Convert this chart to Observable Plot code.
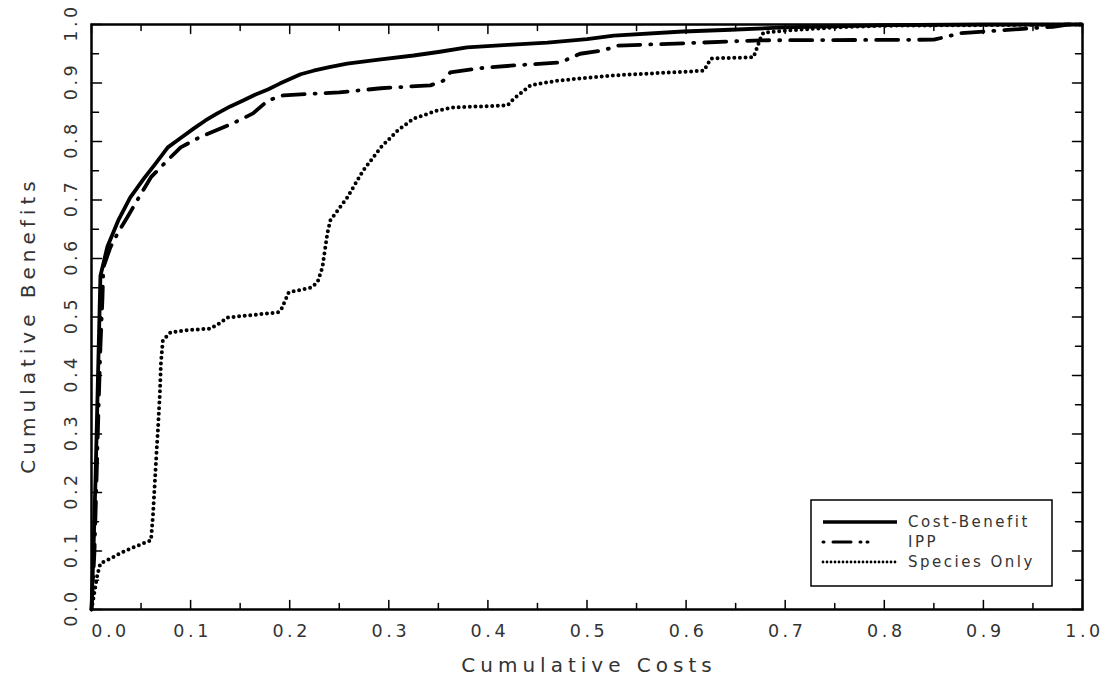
<!DOCTYPE html>
<html><head><meta charset="utf-8">
<script src="https://cdn.jsdelivr.net/npm/d3@7"></script>
<script src="https://cdn.jsdelivr.net/npm/@observablehq/plot@0.6"></script>
<style>
body{margin:0;background:#fff;}
#wrap{position:relative;width:1111px;height:686px;background:#fff;}
#legend{position:absolute;left:0;top:0;}
</style></head><body><div id="wrap"></div>
<script>
// ---- data ----
const costBenefitX = [0,0.002,0.004,0.006,0.008,0.009,0.016,0.027,0.039,0.053,0.065,0.077,0.09,0.103,0.115,0.127,0.14,0.153,0.165,0.178,0.19,0.211,0.224,0.24,0.258,0.29,0.325,0.35,0.379,0.42,0.46,0.5,0.527,0.597,0.645,0.7,0.749,0.8,0.9,1.0];
const costBenefitY = [0,0.10,0.22,0.36,0.50,0.57,0.62,0.665,0.704,0.737,0.763,0.79,0.806,0.822,0.836,0.848,0.86,0.870,0.880,0.889,0.899,0.915,0.921,0.927,0.933,0.94,0.947,0.953,0.961,0.965,0.969,0.975,0.981,0.988,0.991,0.995,0.997,0.999,1.0,1.0];

const ippX = [0,0.003,0.005,0.007,0.009,0.011,0.012,0.019,0.027,0.036,0.048,0.06,0.075,0.09,0.11,0.137,0.15,0.163,0.178,0.194,0.25,0.292,0.342,0.355,0.362,0.39,0.426,0.473,0.493,0.517,0.531,0.6,0.675,0.85,0.877,0.9,0.944,0.97,0.985,1.0];
const ippY = [0,0.10,0.22,0.34,0.45,0.53,0.585,0.619,0.645,0.670,0.705,0.739,0.765,0.79,0.808,0.827,0.837,0.848,0.870,0.879,0.884,0.891,0.896,0.904,0.918,0.925,0.930,0.935,0.950,0.956,0.964,0.968,0.973,0.974,0.985,0.988,0.993,0.996,1.0,1.0];

const speciesX = [0,0.003,0.006,0.009,0.019,0.03,0.042,0.055,0.06,0.062,0.064,0.066,0.067,0.069,0.07,0.072,0.08,0.1,0.12,0.13,0.137,0.16,0.188,0.191,0.199,0.221,0.228,0.233,0.238,0.241,0.258,0.274,0.292,0.309,0.325,0.349,0.365,0.42,0.426,0.443,0.47,0.527,0.618,0.625,0.668,0.675,0.678,0.705,0.75,0.8,1.0];
const speciesY = [0,0.03,0.06,0.079,0.087,0.097,0.106,0.115,0.118,0.16,0.22,0.28,0.306,0.37,0.42,0.46,0.474,0.478,0.48,0.49,0.499,0.503,0.508,0.511,0.542,0.550,0.559,0.585,0.643,0.665,0.704,0.750,0.790,0.819,0.839,0.853,0.858,0.862,0.873,0.896,0.904,0.913,0.921,0.942,0.944,0.976,0.986,0.990,0.995,0.998,1.0];

const seriesNames = ["Cost-Benefit", "IPP", "Species Only"];
const xMajor = [0,0.1,0.2,0.3,0.4,0.5,0.6,0.7,0.8,0.9,1.0];
const xMinor = [0.05,0.15,0.25,0.35,0.45,0.55,0.65,0.75,0.85,0.95];
const yMajor = [0,0.1,0.2,0.3,0.4,0.5,0.6,0.7,0.8,0.9,1.0];
const yMinor = [0.05,0.15,0.25,0.35,0.45,0.55,0.65,0.75,0.85,0.95];
const xTitle = "Cumulative Costs";
const yTitle = "Cumulative Benefits";

// ---- build ----
const toRows = (name, xs, ys) => xs.map((x, i) => ({series: name, x, y: ys[i]}));
const rows = [
  ...toRows(seriesNames[0], costBenefitX, costBenefitY),
  ...toRows(seriesNames[1], ippX, ippY),
  ...toRows(seriesNames[2], speciesX, speciesY)
];
const styles = {
  "Cost-Benefit": {strokeWidth: 3.8, strokeDasharray: null, strokeLinecap: "butt"},
  "IPP": {strokeWidth: 3.8, strokeDasharray: "22,10,1,10", strokeLinecap: "round"},
  "Species Only": {strokeWidth: 4, strokeDasharray: "0,5.6", strokeLinecap: "round"}
};
const fmt = d3.format(".1f");
const tickShape = {draw(ctx, l) { ctx.moveTo(0, 0); ctx.lineTo(0, -l); }};
const FONT = "DejaVu Sans";
const TXT = "#333";

function ticks(values, frameAnchor, rotate, length, ch) {
  return Plot.vector(values, {[ch]: d => d, frameAnchor, rotate, length, anchor: "start", shape: tickShape, stroke: "#000", strokeWidth: 1.5});
}

const plot = Plot.plot({
  width: 1111, height: 686,
  marginLeft: 91, marginRight: 29, marginTop: 24, marginBottom: 77,
  x: {domain: [0, 1], axis: null},
  y: {domain: [0, 1], axis: null},
  style: {background: "#fff", fontFamily: FONT},
  marks: [
    ...seriesNames.map(name => Plot.line(rows.filter(r => r.series === name), {
      x: "x", y: "y", stroke: "#000", curve: "linear", ...styles[name]
    })),
    ticks(xMajor, "bottom", 0, 9, "x"),
    ticks(xMinor, "bottom", 0, 6, "x"),
    ticks(xMajor, "top", 180, 9, "x"),
    ticks(xMinor, "top", 180, 6, "x"),
    ticks(yMajor, "left", 90, 10, "y"),
    ticks(yMinor, "left", 90, 7, "y"),
    ticks(yMajor, "right", -90, 10, "y"),
    ticks(yMinor, "right", -90, 7, "y"),
    Plot.frame({stroke: "#000", strokeWidth: 2.5}),
    Plot.text(xMajor.filter(d => d > 0), {x: d => d, text: d => fmt(d), frameAnchor: "bottom", dy: 22, dx: 2, fontSize: 17.5, fill: TXT, lineAnchor: "middle"}),
    Plot.text(xMajor.filter(d => d === 0), {x: d => d, text: d => fmt(d), frameAnchor: "bottom", dy: 22, dx: 19, fontSize: 17.5, fill: TXT, lineAnchor: "middle"}),
    Plot.text(yMajor, {y: d => d, text: d => fmt(d), frameAnchor: "left", dx: -20, dy: -2, rotate: -90, fontSize: 17.5, fill: TXT, lineAnchor: "middle", textAnchor: "middle"}),
    Plot.text([xTitle], {text: d => d, frameAnchor: "bottom", dy: 56, dx: 2, fontSize: 20, fill: TXT, lineAnchor: "middle"}),
    Plot.text([yTitle], {text: d => d, frameAnchor: "left", dx: -63, dy: 8, rotate: -90, fontSize: 20, fill: TXT, lineAnchor: "middle", textAnchor: "middle"})
  ]
});
plot.querySelectorAll("g[font-size='17.5']").forEach(g => g.setAttribute("letter-spacing", "3.6"));
plot.querySelectorAll("g[font-size='20']").forEach(g => g.setAttribute("letter-spacing", "5"));
const wrap = document.getElementById("wrap");
wrap.appendChild(plot);

// ---- legend (overlay) ----
const lg = d3.select(wrap).append("svg").attr("id", "legend").attr("width", 1111).attr("height", 686)
  .style("pointer-events", "none");
const box = lg.append("g").attr("transform", "translate(811,500)");
box.append("rect").attr("x", 0).attr("y", 0).attr("width", 241).attr("height", 86)
  .attr("fill", "#fff").attr("stroke", "#000").attr("stroke-width", 1.5);
const legendDash = {
  "Cost-Benefit": {w: 3.5, dash: null, cap: "butt"},
  "IPP": {w: 3, dash: "1,9,18,9,1,6,1,40", cap: "round"},
  "Species Only": {w: 2.8, dash: "0,4", cap: "round"}
};
seriesNames.forEach((name, i) => {
  const y = 22 + i * 20;
  const s = legendDash[name];
  box.append("line").attr("x1", 12).attr("x2", 86).attr("y1", y).attr("y2", y)
    .attr("stroke", "#000").attr("stroke-width", s.w).attr("stroke-linecap", s.cap)
    .attr("stroke-dasharray", s.dash);
  box.append("text").attr("x", 97).attr("y", y).attr("dy", "0.35em")
    .attr("font-family", FONT).attr("font-size", 15).attr("letter-spacing", 2.5)
    .attr("fill", TXT).text(name);
});
</script></body></html>
